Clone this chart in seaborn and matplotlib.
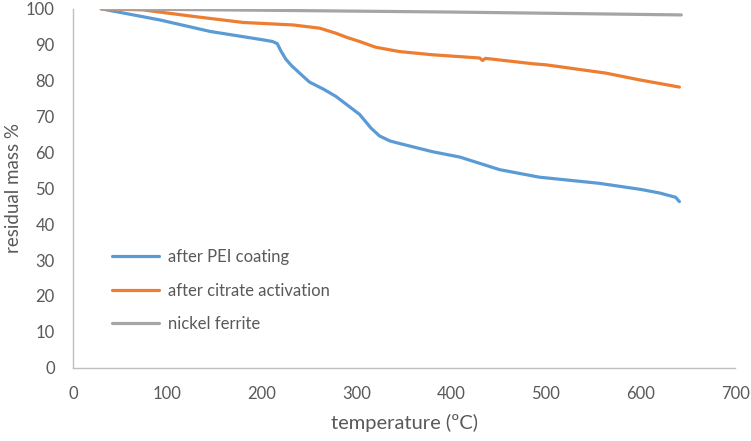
import numpy as np
import pandas as pd
import matplotlib
matplotlib.use("Agg")
import matplotlib.pyplot as plt
import seaborn as sns

# values (temperature in C, residual mass in %)
pei_temp = [30, 92, 145, 200, 211, 216, 220, 225, 231, 240, 250, 265, 278, 290, 303, 315, 324, 335, 345,
            380, 409, 451, 493, 556, 600, 620, 637, 641]
pei_mass = [100, 96.9, 93.7, 91.4, 90.9, 90.3, 88.2, 86.0, 84.2, 82.0, 79.6, 77.6, 75.6, 73.2, 70.6, 66.8,
            64.6, 63.2, 62.5, 60.2, 58.7, 55.2, 53.1, 51.4, 49.7, 48.7, 47.5, 46.3]

citrate_temp = [30, 74, 127, 180, 233, 261, 278, 290, 303, 320, 345, 380, 430, 433, 436, 486, 500, 563, 599, 641]
citrate_mass = [100, 99.7, 97.9, 96.2, 95.5, 94.6, 93.2, 92.0, 90.9, 89.3, 88.1, 87.2, 86.3, 85.6, 86.2,
                84.7, 84.4, 82.1, 80.2, 78.2]

ferrite_temp = [30, 200, 400, 643]
ferrite_mass = [100, 99.6, 99.1, 98.3]

labels = ["after PEI coating", "after citrate activation", "nickel ferrite"]
colors = ["#5B9BD5", "#ED7D31", "#A5A5A5"]

frames = []
for lab, t, m in zip(labels, [pei_temp, citrate_temp, ferrite_temp], [pei_mass, citrate_mass, ferrite_mass]):
    frames.append(pd.DataFrame({"temp": t, "mass": m, "series": lab}))
df = pd.concat(frames, ignore_index=True)

sns.set_style("white")
plt.rcParams["font.family"] = ["Lato", "DejaVu Sans"]
text_col = "#595959"

fig = plt.figure(figsize=(7.51, 4.41), dpi=100)
ax = fig.add_axes([0.097, 0.166, 0.882, 0.814])

sns.lineplot(data=df, x="temp", y="mass", hue="series", hue_order=labels,
             palette=colors, estimator=None, sort=False, linewidth=2.3, ax=ax)

ax.set_xlim(0, 700)
ax.set_ylim(0, 100)
ax.set_xticks(np.arange(0, 701, 100))
ax.set_yticks(np.arange(0, 101, 10))
ax.tick_params(axis="both", length=0, labelsize=12, labelcolor=text_col)
ax.tick_params(axis="y", pad=13)
ax.tick_params(axis="x", pad=13)

for side in ["top", "right"]:
    ax.spines[side].set_visible(False)
for side in ["left", "bottom"]:
    ax.spines[side].set_color("#BFBFBF")
    ax.spines[side].set_linewidth(1.0)

ax.set_xlabel("temperature (ºC)", fontsize=14.5, color=text_col, labelpad=9)
ax.set_ylabel("residual mass %", fontsize=13.5, color=text_col, labelpad=3)

leg = ax.legend(loc="upper left", bbox_to_anchor=(0.037, 0.372), frameon=False,
                fontsize=12, handlelength=2.8, labelspacing=1.05, handletextpad=0.55)
for txt in leg.get_texts():
    txt.set_color(text_col)

fig.savefig("out.png", dpi=100)
